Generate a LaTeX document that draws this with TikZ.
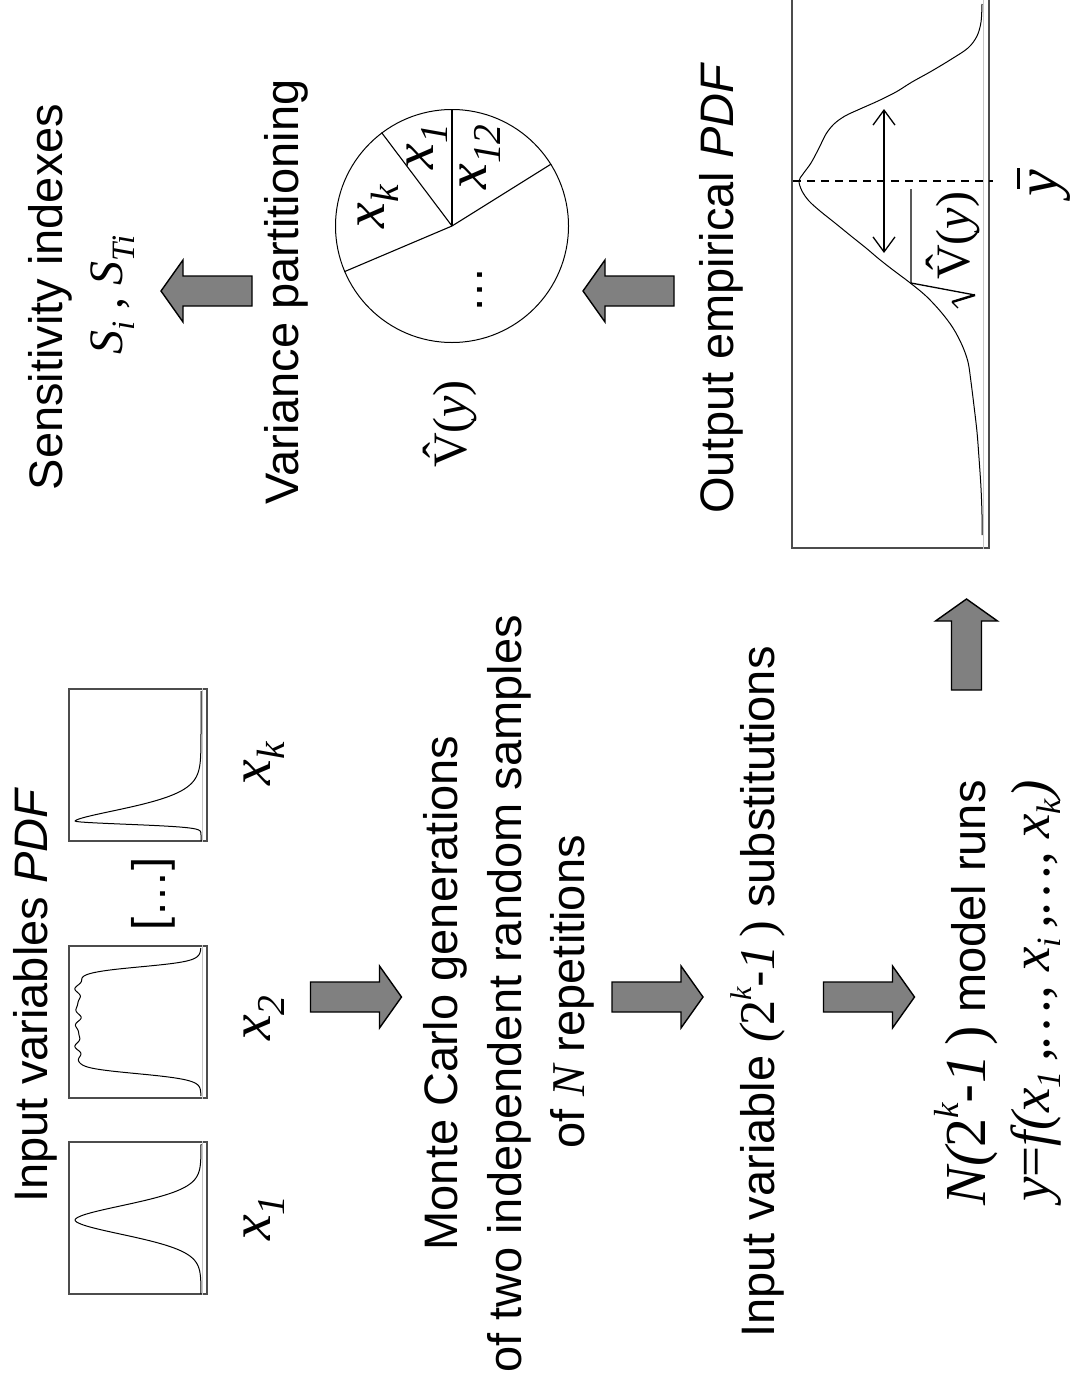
\documentclass[tikz,border=0pt]{standalone}
\usepackage{fontspec}
\setmainfont{Liberation Sans}
\newfontfamily\tnr{Liberation Serif}
\usetikzlibrary{arrows.meta}

% font size helper, serif italic symbols, sub/superscripts, accents
\newcommand\fs[1]{\fontsize{#1}{#1}\selectfont}
\newcommand\mi[1]{{\tnr\itshape #1}}
\newcommand\sbx[1]{\raisebox{-0.25em}{\scalebox{0.68}{#1}}}
\newcommand\sbl[1]{\raisebox{-0.2em}{\scalebox{0.62}{#1}}}
\newcommand\spx[1]{\raisebox{0.45em}{\scalebox{0.6}{#1}}}
\newcommand\twok{{\tnr\itshape(}{\tnr 2}\spx{\mi{k}}-\mi{1}{\tnr\,)}}
\newcommand\Vhat{{\tnr\ooalign{V\cr\hidewidth\raisebox{0.2em}{ˆ}\hidewidth\cr}}}
\newcommand\ybar{{\tnr\itshape\rlap{\kern0.12em\raisebox{0.62em}{\rule{0.36em}{0.045em}}}y}}

\begin{document}
\begin{tikzpicture}[x=1pt, y=-1pt,
  txt/.style={rotate=90, anchor=base, inner sep=0pt, font=\fs{47}},
  mth/.style={rotate=90, anchor=base, inner sep=0pt},
  pdfbox/.style={draw=black!70, line width=1.4pt, inner sep=0pt},
  zeroline/.style={draw=black!22, line width=1pt},
  curve/.style={draw=black, line width=1pt, line join=round},
  pieline/.style={draw=black, line width=1.1pt},
  dashln/.style={draw=black, line width=1.2pt, dash pattern=on 8pt off 6pt},
  spread/.style={line width=1.3pt, {Straight Barb[length=15pt,width=22pt]}-{Straight Barb[length=15pt,width=22pt]}},
  radical/.style={draw=black, line width=1.3pt, line join=miter},
  barrow/.style={draw=black, fill=black!50, line width=1.4pt, line join=miter},
  blockarrow/.pic={\path[barrow] (-45.5,-15) -- (23.5,-15) -- (23.5,-31) -- (45.5,0) -- (23.5,31) -- (23.5,15) -- (-45.5,15) -- cycle;},
]
\fill[white] (0,0) rectangle (1072,1392);
\useasboundingbox (0,0) rectangle (1072,1392);

% ---------- input distributions ----------
\node[txt] (inpv) at (47,995) {Input variables \textit{PDF}};
\node[pdfbox, minimum width=138pt, minimum height=152pt] (pdfA) at (138,1218) {};
\node[pdfbox, minimum width=138pt, minimum height=152pt] (pdfB) at (138,1022) {};
\node[pdfbox, minimum width=138pt, minimum height=152pt] (pdfC) at (138,765) {};
\foreach \b in {pdfA,pdfB,pdfC}
  \draw[zeroline] ([xshift=-5pt]\b.north east) -- ([xshift=-5pt]\b.south east);

% bell shaped
\draw[curve] plot[domain=-76:74, samples=151, variable=\t]
  ({201-126*exp(-(abs(\t)/22)^1.8)}, {1220+\t});
% flat topped
\draw[curve] plot[domain=-74:74, samples=220, variable=\t]
  ({201-(123+2.2*sin(19*\t)+1*sin(31*\t+40))/((1+exp(-(\t+55)/3))*(1+exp((\t-52)/3)))}, {1022+\t});
% skewed
\draw[curve] plot[domain=130:0, samples=131, variable=\t]
  ({201-126*exp(-(\t/20)*sqrt(\t/20))}, {821-\t})
  -- plot[domain=0:20, samples=41, variable=\t]
  ({201-126*exp(-(\t/4.5)^2)}, {821+\t});

\node[mth, font=\tnr\itshape\fs{58}] (lA) at (270,1218) {x\sbx{1}};
\node[mth, font=\tnr\itshape\fs{58}] (lB) at (270,1018) {x\sbx{2}};
\node[mth, font=\tnr\itshape\fs{58}] (lC) at (270,764) {x\sbx{k}};
\node[txt] (gap) at (165,894) {[…]};

% ---------- process steps ----------
\pic at (356,997) {blockarrow};
\node[txt] (mc1) at (457,993) {Monte Carlo generations};
\node[txt] (mc2) at (521,994) {of two independent random samples};
\node[txt] (mc3) at (584,992) {of \mi{N} repetitions};

\pic at (657.5,997) {blockarrow};
\node[txt] (subs) at (774,992) {Input variable {\fs{50}\twok} substitutions};

\pic at (869,997) {blockarrow};
\node[txt] (runs) at (985,993) {{\fs{58}\mi{N}\twok} model runs};
\node[mth, font=\tnr\itshape\fs{55}] (yf) at (1049,991)
  {y{\upshape =}f(x\sbl{1}\,,…, x\sbl{i}\,,…, x\sbl{k})};

\pic[rotate=90] at (966.5,644.5) {blockarrow};

% ---------- output distribution ----------
\node[txt] (outp) at (733,288) {Output empirical \textit{PDF}};
\node[pdfbox, minimum width=197pt, minimum height=740pt] (pdfY) at (890.5,178) {};
\draw[zeroline] ([xshift=-6pt]pdfY.north east) -- ([xshift=-6pt]pdfY.south east);
\draw[curve] plot[smooth, tension=0.55] coordinates {
  (982,4) (981,22) (977,36) (968,48) (950,60) (930,72) (912,82) (896,92)
  (878,101) (860,109) (845,116) (834,124) (826,134) (819,148) (811,163)
  (803,174) (799,181) (802,191) (809,201) (820,211) (835,223) (851,236)
  (866,248) (879,259) (893,270) (909,282) (926,296) (941,312) (953,328)
  (962,345) (968,362) (971,382) (974,406) (977,432) (979,458) (981,488)
  (982,515) (982,535)};
\coordinate (meanA) at (793,181);
\coordinate (meanB) at (993,181);
\draw[dashln] (meanA) -- (meanB);
\coordinate (sdA) at (884,109);
\coordinate (sdB) at (884,253);
\draw[spread] (sdA) -- (sdB);
\node[mth, font=\tnr\fs{48}, anchor=base west] (sdlbl) at (969,280) {\Vhat(\mi{y})};
\draw[radical] (958,308) -- (952,302);
\draw[radical, line width=2.4pt] (952,302) -- (975,295);
\draw[radical] (975,295) -- (911,283) -- (911,189);
\node[mth, font=\fs{60}] (ybar) at (1057,183) {\ybar};

% ---------- variance partitioning ----------
\pic[rotate=180] at (628.5,291) {blockarrow};
\node[txt] (varp) at (298,292) {Variance partitioning};
\node[draw, circle, line width=1pt, minimum size=233pt, inner sep=0pt] (pie) at (452,226) {};
\draw[pieline] (pie.center) -- (pie.90);
\draw[pieline] (pie.center) -- (pie.127.3);
\draw[pieline] (pie.center) -- (pie.32.4);
\draw[pieline] (pie.center) -- (pie.203.7);
\node[mth, font=\tnr\itshape\fs{58}] (pk) at (384,207) {x\sbx{k}};
\node[mth, font=\tnr\itshape\fs{58}] (p1) at (433,147) {x\sbx{1}};
\node[mth, font=\tnr\itshape\fs{58}] (p12) at (486,157) {x\sbx{12}};
\node[txt] (pdots) at (482,290) {…};
\node[mth, font=\tnr\fs{48}] (vhat) at (466,424) {\Vhat(\mi{y})};

% ---------- sensitivity indexes ----------
\pic[rotate=180] at (206.5,291) {blockarrow};
\node[txt] (sens) at (62,297) {Sensitivity indexes};
\node[mth, font=\tnr\fs{48}] (sidx) at (122,295) {\mi{S}\sbx{\mi{i}} , \mi{S}\sbx{\mi{Ti}}};
\end{tikzpicture}
\end{document}
